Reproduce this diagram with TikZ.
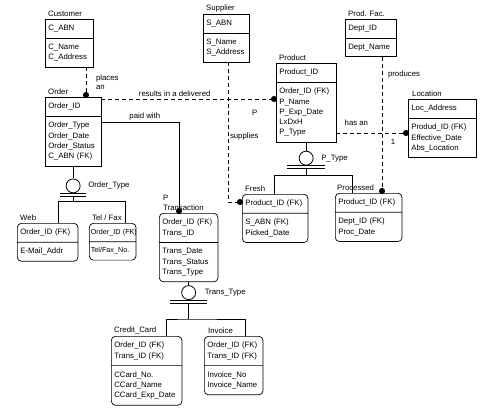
\documentclass[tikz,border=0pt]{standalone}
\usepackage{fontspec}
\setmainfont{Liberation Sans}
\usetikzlibrary{shapes.multipart, arrows.meta, positioning, calc}

\begin{document}
\begin{tikzpicture}[
    x=1pt, y=-1pt,
    entity/.style={rectangle split, rectangle split parts=2, draw, line width=0.7pt, inner xsep=3pt, inner ysep=5.5pt, align=left, anchor=north west, font=\fontsize{7.8}{10.3}\selectfont},
    weak/.style={entity, rounded corners=4pt},
    title/.style={inner sep=1pt, align=left, font=\fontsize{7.8}{9.8}\selectfont},
    rel/.style={inner sep=1.5pt, align=left, font=\fontsize{7.8}{9.8}\selectfont},
    link/.style={line width=1pt, dash pattern=on 4pt off 3pt},
    dot/.style={-{Circle[length=6pt]}, shorten >=-1pt},
    disc/.style={circle, draw, line width=0.8pt, minimum size=14pt, inner sep=0pt},
    isa/.style={line width=0.9pt},
]
    \useasboundingbox (0,0) rectangle (498,413);

    % Strong entities
    \node[entity, text width=41.6pt] (cust) at (45,19) {C\_ABN \nodepart{two} C\_Name\\C\_Address};
    \node[entity, text width=49.6pt] (order) at (45,97) {Order\_ID \nodepart{two} Order\_Type\\Order\_Date\\Order\_Status\\C\_ABN (FK)};
    \node[entity, text width=39.6pt] (supp) at (203,14) {S\_ABN \nodepart{two} S\_Name\\S\_Address};
    \node[entity, text width=53.6pt] (prod) at (276,63) {Product\_ID \nodepart{two} Order\_ID (FK)\\P\_Name\\P\_Exp\_Date\\LxDxH\\P\_Type};
    \node[entity, text width=44.6pt] (fac) at (345,19) {Dept\_ID \nodepart{two} Dept\_Name};
    \node[entity, text width=61.6pt] (loc) at (408,99) {Loc\_Address \nodepart{two} Produd\_ID (FK)\\Effective\_Date\\Abs\_Location};

    % Dependent entities
    \node[weak, text width=54.6pt] (web) at (17,223) {Order\_ID (FK) \nodepart{two} E-Mail\_Addr};
    \node[weak, text width=43.6pt, inner xsep=1.5pt, font=\fontsize{7.2}{10.3}\selectfont] (telfax) at (89,223) {Order\_ID~(FK) \nodepart{two} Tel/Fax\_No.};
    \node[weak, text width=52.6pt] (trans) at (159,213) {Order\_ID (FK)\\Trans\_ID \nodepart{two} Trans\_Date\\Trans\_Status\\Trans\_Type};
    \node[weak, text width=59.6pt] (fresh) at (242,194) {Product\_ID (FK) \nodepart{two} S\_ABN (FK)\\Picked\_Date};
    \node[weak, text width=60.6pt] (proc) at (335,193) {Product\_ID (FK) \nodepart{two} Dept\_ID (FK)\\Proc\_Date};
    \node[weak, text width=64.6pt] (ccard) at (111,336) {Order\_ID (FK)\\Trans\_ID (FK) \nodepart{two} CCard\_No.\\CCard\_Name\\CCard\_Exp\_Date};
    \node[weak, text width=52.6pt] (inv) at (204,336) {Order\_ID (FK)\\Trans\_ID (FK) \nodepart{two} Invoice\_No\\Invoice\_Name};

    % Entity names
    \node[title, above right=1pt and 2pt of cust.north west] (custlab) {Customer};
    \node[title, above right=1pt and 2pt of order.north west] (orderlab) {Order};
    \node[title, above right=1pt and 2pt of supp.north west] (supplab) {Supplier};
    \node[title, above right=1pt and 2pt of prod.north west] (prodlab) {Product};
    \node[title, above right=1pt and 2pt of fac.north west] (faclab) {Prod. Fac.};
    \node[title, above right=1pt and 3pt of loc.north west] (loclab) {Location};
    \node[title, above right=1pt and 2pt of web.north west] (weblab) {Web};
    \node[title, above right=1pt and 2pt of telfax.north west] (tellab) {Tel / Fax};
    \node[title, above right=1pt and 3pt of trans.north west] (translab) {P\\Transaction};
    \node[title, above right=1pt and 2pt of fresh.north west] (freshlab) {Fresh};
    \node[title, above right=1pt and 1pt of proc.north west] (proclab) {Processed};
    \node[title, above right=1pt and 2pt of ccard.north west] (cclab) {Credit\_Card};
    \node[title, above right=1pt and 3pt of inv.north west] (invlab) {Invoice};

    % Relationships
    \draw[link, dot] ([xshift=41pt]cust.south west) -- ([xshift=41pt]order.north west)
        node[rel, midway, right=8pt] (placeslab) {places\\an};
    \draw[link, dot] ([yshift=-2pt]order.north east) -- ([yshift=-2pt]order.north east -| prod.west)
        node[rel, above, pos=0.42] (reslab) {results in a delivered};
    \draw[line width=1pt, dot] ([yshift=-25pt]order.north east) -| ([xshift=20pt]trans.north west)
        node[rel, above, pos=0.28] (paidlab) {paid with};
    \draw[link, dot] ([xshift=25pt]supp.south west) |- ([yshift=-8pt]fresh.north west)
        node[rel, right, pos=0.264] (suplab) {supplies}
        node[rel, right=22pt, pos=0.18] (plab) {P};
    \draw[link, dot] ([yshift=-70pt]prod.north east) -- ([yshift=-70pt]prod.north east -| loc.west)
        node[rel, above=5pt, pos=0.28] (haslab) {has an}
        node[rel, below=4pt, pos=0.79] (onelab) {1};
    \draw[link, dot] ([xshift=37pt]fac.south west) -- ([xshift=37pt]fac.south west |- proc.north)
        node[rel, right=4pt, pos=0.13] (producelab) {produces};

    % Order_Type
    \node[disc, below=12pt of order] (otc) {};
    \node[rel, right=6pt of otc] (otlab) {Order\_Type};
    \draw[isa] (order) -- (otc);
    \draw[isa] ([xshift=-13pt]otc.south) -- ([xshift=13pt]otc.south);
    \draw[isa] ([xshift=-13pt,yshift=-3pt]otc.south) -- ([xshift=13pt,yshift=-3pt]otc.south);
    \draw[isa] ([yshift=-3pt]otc.south) -- ([yshift=-8pt]otc.south);
    \draw[isa] ([xshift=41pt]web.north west) |- ([yshift=-8pt]otc.south) -| ([xshift=36pt]telfax.north west);

    % P_Type
    \node[disc, below=8pt of prod] (ptc) {};
    \node[rel, right=6pt of ptc] (ptlab) {P\_Type};
    \draw[isa] (prod) -- (ptc);
    \draw[isa] ([xshift=-19pt]ptc.south) -- ([xshift=19pt]ptc.south);
    \draw[isa] ([xshift=-19pt,yshift=-3pt]ptc.south) -- ([xshift=19pt,yshift=-3pt]ptc.south);
    \draw[isa] ([yshift=-3pt]ptc.south) -- ([yshift=-10pt]ptc.south);
    \draw[isa] ([xshift=32pt]fresh.north west) |- ([yshift=-10pt]ptc.south) -| ([xshift=17pt]proc.north west);

    % Trans_Type
    \node[disc, below=3pt of trans] (ttc) {};
    \node[rel, right=7pt of ttc] (ttlab) {Trans\_Type};
    \draw[isa] (trans) -- (ttc);
    \draw[isa] ([xshift=-18.5pt]ttc.south) -- ([xshift=18.5pt]ttc.south);
    \draw[isa] ([xshift=-18.5pt,yshift=-3pt]ttc.south) -- ([xshift=18.5pt,yshift=-3pt]ttc.south);
    \draw[isa] ([yshift=-3pt]ttc.south) -- ([yshift=-19pt]ttc.south);
    \draw[isa] ([xshift=55pt]ccard.north west) |- ([yshift=-19pt]ttc.south) -| ([xshift=41pt]inv.north west);
\end{tikzpicture}
\end{document}
